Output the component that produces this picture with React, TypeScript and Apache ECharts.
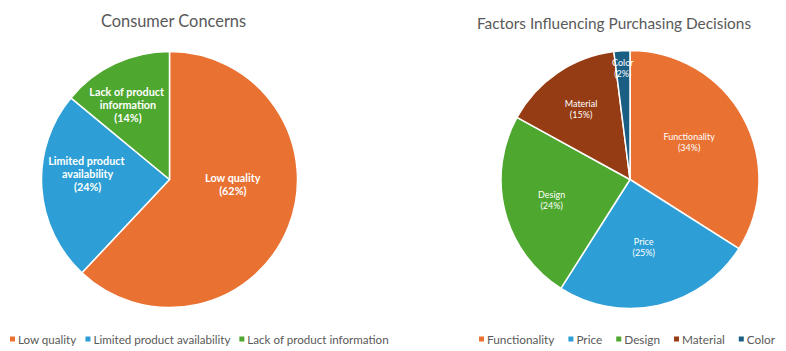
import React, { useEffect, useRef } from "react";
import * as echarts from "echarts";

const concernNames = ["Low quality", "Limited product availability", "Lack of product information"];
const concernValues = [62, 24, 14];
const concernColors = ["#E97132", "#2E9FD6", "#4EA72E"];

const factorNames = ["Functionality", "Price", "Design", "Material", "Color"];
const factorValues = [34, 25, 24, 15, 2];
const factorColors = ["#E97132", "#2E9FD6", "#4EA72E", "#963C14", "#1B5E84"];

const leftTitle = "Consumer Concerns";
const rightTitle = "Factors Influencing Purchasing Decisions";

// label nudges (dx, dy) relative to ECharts' inside placement
const concernNudge = [[1, -20], [-15, -10], [-13, -14]];
const factorNudge = [[0, -5], [-1, 2], [-13, 4], [-11, -15], [-3, -44]];

const FONT = "Lato, 'Noto Sans', sans-serif";

export default function App() {
  const ref = useRef<HTMLDivElement>(null);
  useEffect(() => {
    if (!ref.current) return;
    const chart = echarts.init(ref.current, undefined, { renderer: "svg" });
    chart.setOption({
      animation: false,
      backgroundColor: "#ffffff",
      textStyle: { fontFamily: FONT },
      title: [
        {
          text: leftTitle,
          left: 168.5,
          top: 7,
          textAlign: "center",
          textStyle: { fontSize: 16.4, fontWeight: "normal", color: "#595959", fontFamily: FONT },
        },
        {
          text: rightTitle,
          left: 609,
          top: 10,
          textAlign: "center",
          textStyle: { fontSize: 15.4, fontWeight: "normal", color: "#595959", fontFamily: FONT },
        },
      ],
      legend: [
        {
          data: concernNames,
          left: 8,
          top: 333,
          padding: 0,
          icon: "rect",
          itemWidth: 7,
          itemHeight: 7,
          itemGap: 7,
          textStyle: { fontSize: 11.6, color: "#595959", fontFamily: FONT, padding: [0, 0, 0, -3] },
        },
        {
          data: factorNames,
          right: 11,
          top: 333,
          padding: 0,
          icon: "rect",
          itemWidth: 7,
          itemHeight: 7,
          itemGap: 12,
          textStyle: { fontSize: 11.8, color: "#595959", fontFamily: FONT, padding: [0, 0, 0, -3] },
        },
      ],
      series: [
        {
          type: "pie",
          center: [169.5, 179.5],
          radius: [0, 128],
          startAngle: 90,
          clockwise: true,
          percentPrecision: 0,
          itemStyle: { borderColor: "#ffffff", borderWidth: 1.5 },
          label: {
            position: "inside",
            formatter: "{b}\n({d}%)",
            color: "#ffffff",
            fontSize: 10.8,
            fontWeight: "bold",
            lineHeight: 13,
            width: 90,
            overflow: "break",
            align: "center",
            fontFamily: FONT,
          },
          labelLine: { show: false },
          emphasis: { disabled: true },
          labelLayout: (p: any) => {
            const n = concernNudge[p.dataIndex] || [0, 0];
            return { dx: n[0], dy: n[1] };
          },
          data: concernNames.map((name, i) => ({
            name,
            value: concernValues[i],
            itemStyle: { color: concernColors[i] },
          })),
        },
        {
          type: "pie",
          center: [630, 179.5],
          radius: [0, 129],
          startAngle: 90,
          clockwise: true,
          percentPrecision: 0,
          itemStyle: { borderColor: "#ffffff", borderWidth: 1.5 },
          label: {
            position: "inside",
            formatter: "{b}\n({d}%)",
            color: "#ffffff",
            fontSize: 9,
            lineHeight: 11,
            align: "center",
            fontFamily: FONT,
          },
          labelLine: { show: false },
          emphasis: { disabled: true },
          labelLayout: (p: any) => {
            const n = factorNudge[p.dataIndex] || [0, 0];
            return { dx: n[0], dy: n[1] };
          },
          data: factorNames.map((name, i) => ({
            name,
            value: factorValues[i],
            itemStyle: { color: factorColors[i] },
          })),
        },
      ],
    });
    return () => chart.dispose();
  }, []);
  return (
    <div
      ref={ref}
      style={{ position: "fixed", left: 0, top: 0, width: 786, height: 351 }}
    />
  );
}
